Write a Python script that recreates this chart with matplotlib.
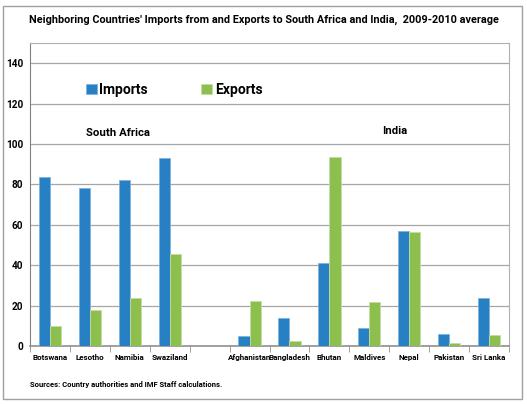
import matplotlib.pyplot as plt
import matplotlib.patches as patches
import numpy as np

countries = ['Botswana', 'Lesotho', 'Namibia', 'Swaziland', '',
             'Afghanistan', 'Bangladesh', 'Bhutan', 'Maldives', 'Nepal', 'Pakistan', 'Sri Lanka']
imports = [83.5, 78.0, 82.3, 92.9, 0, 5.1, 13.9, 41.2, 8.7, 56.9, 5.8, 23.6]
exports = [10.0, 17.7, 23.6, 45.4, 0, 22.4, 2.3, 93.6, 21.6, 56.6, 1.5, 5.3]

plt.rcParams['font.family'] = ['Roboto', 'DejaVu Sans']
plt.rcParams['font.weight'] = 'bold'

fig = plt.figure(figsize=(5.27, 4.04), dpi=100)
ax = fig.add_axes([30 / 527, 1 - 346 / 404, 479 / 527, 303 / 404])

x = np.arange(len(countries))
w = 0.28
ax.bar(x - w / 2, imports, w, color='#2880C4', edgecolor='#7FB3DD', linewidth=0.6, label='Imports', zorder=3)
ax.bar(x + w / 2, exports, w, color='#8DBF4F', edgecolor='#C3DDA2', linewidth=0.6, label='Exports', zorder=3)

ax.set_xlim(-0.5, len(countries) - 0.5)
ax.set_ylim(0, 150)
ax.set_yticks(range(0, 141, 20))
ax.set_xticks(x)
ax.set_xticklabels(countries, fontsize=5.8, fontweight='bold')
ax.set_xticks(np.arange(-0.5, len(countries)), minor=True)
ax.tick_params(axis='x', which='major', length=0, pad=6)
ax.tick_params(axis='x', which='minor', length=4, color='#909090', direction='out')
ax.tick_params(axis='y', length=0, labelsize=7.2, pad=5)
for lab in ax.get_yticklabels():
    lab.set_fontweight('bold')

ax.grid(axis='y', color='#A6A6A6', linewidth=0.9, zorder=0)
for s in ['top', 'right']:
    ax.spines[s].set_color('#B0B0B0')
ax.spines['left'].set_color('#808080')
ax.spines['bottom'].set_color('#909090')
ax.spines['bottom'].set_linewidth(1.2)

ax.legend(loc='upper left', bbox_to_anchor=(0.09, 0.91), ncol=2, frameon=False,
          fontsize=10, handlelength=0.8, handleheight=0.8, handletextpad=0.2,
          columnspacing=3.8)

ax.text(1.7, 104, 'South Africa', fontsize=8.2, fontweight='bold', ha='center')
ax.text(8.65, 105, 'India', fontsize=8.2, fontweight='bold', ha='center')

fig.text(0.5, 1 - 20 / 404, "Neighboring Countries' Imports from and Exports to South Africa and India,  2009-2010 average",
         ha='center', va='center', fontsize=7.8, fontweight='bold')
fig.text(30 / 527, 1 - 384 / 404, 'Sources: Country authorities and IMF Staff calculations.',
         ha='left', va='center', fontsize=5.5, fontweight='bold')

fig.patches.append(patches.Rectangle((3 / 527, 5 / 404), 519 / 527, 393 / 404, transform=fig.transFigure,
                                     fill=False, edgecolor='#A0A0A0', linewidth=1.0))

fig.savefig('out.png', dpi=100)
